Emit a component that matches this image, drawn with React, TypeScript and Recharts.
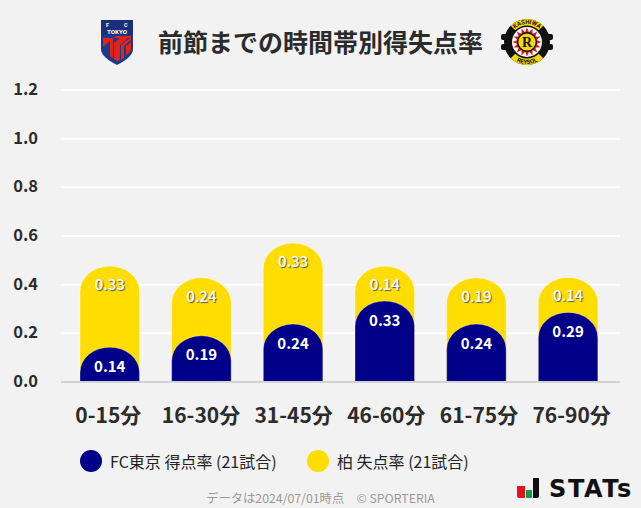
import { BarChart, Bar, XAxis, YAxis, CartesianGrid, LabelList } from "recharts";

const categories = ["0-15分", "16-30分", "31-45分", "46-60分", "61-75分", "76-90分"];
const homeScored = [0.143, 0.19, 0.238, 0.333, 0.238, 0.286];
const awayConceded = [0.333, 0.238, 0.333, 0.143, 0.19, 0.143];
const yTicks = [0, 0.2, 0.4, 0.6, 0.8, 1.0, 1.2];
const legendLabels = ["FC東京 得点率 (21試合)", "柏 失点率 (21試合)"];

const NAVY = "#000088";
const YELLOW = "#ffdd00";
const FONT = '"Noto Sans CJK JP", "Noto Sans", sans-serif';

// the yellow bar sits behind the navy one, so it is drawn at the combined height
const chartData = categories.map((name, i) => ({
  name,
  home: homeScored[i],
  away: awayConceded[i],
  total: homeScored[i] + awayConceded[i],
}));

function DomeBar({ x, y, width, height, fill }: any) {
  if (!height || height <= 0) return null;
  const ry = Math.min(25, height);
  const rx = width / 2;
  const d = `M${x},${y + height} L${x},${y + ry} A${rx},${ry} 0 0 1 ${x + width},${y + ry} L${x + width},${y + height} Z`;
  return <path d={d} fill={fill} stroke="#ffffff" strokeOpacity={0.55} strokeWidth={0.6} />;
}

function TokyoLogo() {
  return (
    <svg width={34} height={47} viewBox="0 0 34 47" style={{ position: "absolute", left: 100, top: 19 }}>
      <path d="M1,1 H33 V30 Q33,38 17,46 Q1,38 1,30 Z" fill="#1d3a8a" />
      <rect x={1} y={1} width={32} height={15} fill="#1b2f78" />
      <text x={6} y={8} fontSize={5.5} fontWeight={700} fill="#fff" fontFamily="Roboto">F</text>
      <text x={24} y={8} fontSize={5.5} fontWeight={700} fill="#fff" fontFamily="Roboto">C</text>
      <text x={17} y={14.5} fontSize={6.2} fontWeight={700} fill="#fff" textAnchor="middle" fontFamily="Roboto">TOKYO</text>
      <path d="M3,19 L3,28 L10,22 L10,37 L13,39 L13,20 L16,17 L31,17 L31,19 L28,19 L20,26 L20,41 L17,42 L14,40 L14,24 L20,19 Z" fill="#e2231a" />
      <path d="M21,26 L31,18 L31,21 L24,27 L24,39 L21,41 Z" fill="#e2231a" />
      <path d="M26,27 L31,23 L31,31 L29,34 L26,36 Z" fill="#e2231a" />
    </svg>
  );
}

function KashiwaLogo() {
  const rays = [0, 22.5, 45, 67.5, 90, 112.5, 135, 157.5, 180, 202.5, 225, 247.5, 270, 292.5, 315, 337.5];
  return (
    <svg width={54} height={48} viewBox="0 0 54 48" style={{ position: "absolute", left: 500, top: 18 }}>
      <rect x={1} y={16} width={14} height={6} rx={2} fill="#111" />
      <rect x={39} y={16} width={14} height={6} rx={2} fill="#111" />
      <rect x={1} y={26} width={14} height={6} rx={2} fill="#111" />
      <rect x={39} y={26} width={14} height={6} rx={2} fill="#111" />
      <circle cx={27} cy={24} r={23} fill="#111" />
      <path d="M13,10 A20,20 0 0 1 41,10" fill="none" stroke="#f5d800" strokeWidth={6.5} />
      <path d="M13,38 A20,20 0 0 0 41,38" fill="none" stroke="#f5d800" strokeWidth={6.5} />
      <circle cx={27} cy={24} r={15} fill="#fff" />
      {rays.map((a) => (
        <polygon key={a} points="24.8,15 29.2,15 27,9.5" transform={`rotate(${a} 27 24)`} fill="#d81e1e" />
      ))}
      <circle cx={27} cy={24} r={10} fill="#111" />
      <circle cx={27} cy={24} r={8.6} fill="#f5d800" />
      <text x={27} y={29} fontSize={14} fontWeight={700} fill="#111" textAnchor="middle" fontFamily="Liberation Serif">R</text>
      <path id="kTop" d="M9,24 A18,18 0 0 1 45,24" fill="none" />
      <path id="kBot" d="M5,24 A22,22 0 0 0 49,24" fill="none" />
      <text fontSize={6} fontWeight={700} fill="#111" fontFamily="Roboto" textAnchor="middle">
        <textPath href="#kTop" startOffset="50%">KASHIWA</textPath>
      </text>
      <text fontSize={6} fontWeight={700} fill="#111" fontFamily="Roboto" textAnchor="middle">
        <textPath href="#kBot" startOffset="50%">REYSOL</textPath>
      </text>
    </svg>
  );
}

export default function App() {
  return (
    <div style={{ position: "fixed", left: 0, top: 0, width: 641, height: 508, background: "#f2f2f2", fontFamily: FONT, overflow: "hidden" }}>
      <TokyoLogo />
      <div style={{ position: "absolute", left: 0, width: 641, top: 23, textAlign: "center", fontSize: 25, lineHeight: "36px", fontWeight: 700, color: "#2b2b2b", whiteSpace: "nowrap" }}>
        前節までの時間帯別得失点率
      </div>
      <KashiwaLogo />

      <div style={{ position: "absolute", left: 0, top: 0 }}>
        <BarChart width={641} height={508} data={chartData} margin={{ top: 90, right: 21, bottom: 0, left: 0 }} barSize={59.5} barGap={-59.5}>
          <CartesianGrid horizontal vertical={false} stroke="#ffffff" strokeWidth={2} />
          <XAxis dataKey="name" height={0} padding={{ left: 3, right: 6 }} axisLine={false} tickLine={false} tick={false} />
          {/* category labels are spaced slightly wider than the bars */}
          <XAxis
            xAxisId="labels"
            dataKey="name"
            height={126}
            padding={{ left: 1, right: 2 }}
            axisLine={{ stroke: "#d2d2d2", strokeWidth: 2 }}
            tickLine={false}
            tickSize={0}
            tickMargin={26}
            interval={0}
            tick={{ fontSize: 21, fontWeight: 700, fill: "#2b2b2b", fontFamily: FONT }}
          />
          <YAxis
            width={61}
            domain={[0, 1.2]}
            ticks={yTicks}
            axisLine={false}
            tickLine={false}
            tickSize={0}
            tickMargin={23}
            tickFormatter={(v: number) => v.toFixed(1)}
            tick={{ fontSize: 16.5, fontWeight: 700, fill: "#2b2b2b", fontFamily: FONT, dy: -1 }}
          />
          <Bar dataKey="total" fill={YELLOW} shape={<DomeBar />} isAnimationActive={false}>
            <LabelList
              dataKey="away"
              position="insideTop"
              offset={13}
              formatter={(v: number) => v.toFixed(2)}
              style={{ fontSize: 15, fontWeight: 500, fill: "#fff", fontFamily: FONT, textShadow: "1px 1px 1px #555" }}
            />
          </Bar>
          <Bar dataKey="home" fill={NAVY} shape={<DomeBar />} isAnimationActive={false}>
            <LabelList
              dataKey="home"
              position="insideTop"
              offset={14}
              formatter={(v: number) => v.toFixed(2)}
              style={{ fontSize: 15, fontWeight: 700, fill: "#fff", fontFamily: FONT }}
            />
          </Bar>
        </BarChart>
      </div>

      {legendLabels.map((label, i) => (
        <div key={label} style={{ position: "absolute", left: i === 0 ? 80 : 307, top: 449.5, height: 22, display: "flex", alignItems: "center", fontSize: 16, color: "#222", whiteSpace: "nowrap" }}>
          <span style={{ width: 22, height: 22, borderRadius: 11, background: i === 0 ? NAVY : YELLOW, marginRight: 8 }} />
          {label}
        </div>
      ))}

      <div style={{ position: "absolute", left: 0, width: 641, top: 489, textAlign: "center", fontSize: 12.3, lineHeight: "18px", color: "#999", whiteSpace: "pre" }}>
        {"データは2024/07/01時点　© SPORTERIA"}
      </div>

      <svg width={125} height={30} style={{ position: "absolute", left: 516, top: 474 }}>
        <path d="M1,12 H9 V24 H3 Q1,24 1,22 Z" fill="#e2131a" />
        <rect x={10} y={16} width={6} height={8} fill="#0c9d4b" />
        <path d="M17,4 H23 V22 Q23,24 21,24 H17 Z" fill="#111" />
        <text x={33} y={23} fontSize={24} fontWeight={700} fill="#111" fontFamily="DejaVu Sans" letterSpacing={1.6}>STATs</text>
      </svg>
    </div>
  );
}
